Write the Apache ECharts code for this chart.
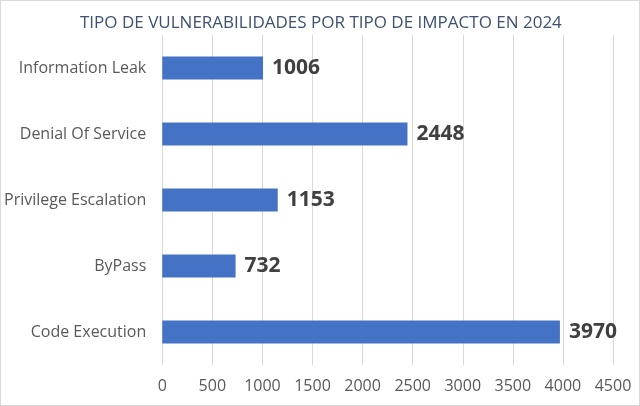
<!DOCTYPE html>
<html><head><meta charset="utf-8">
<script src="https://cdn.jsdelivr.net/npm/echarts@6/dist/echarts.min.js"></script>
<style>html,body{margin:0;padding:0;background:#fff}#c{width:640px;height:406px;box-sizing:border-box;border:1px solid #d9d9d9}</style>
</head><body><div id="c"></div>
<script>
const titleText = 'TIPO DE VULNERABILIDADES POR TIPO DE IMPACTO EN 2024';
const categories = ['Code Execution', 'ByPass', 'Privilege Escalation', 'Denial Of Service', 'Information Leak'];
const values = [3970, 732, 1153, 2448, 1006];
const xTicks = {min: 0, max: 4500, interval: 500};

const chart = echarts.init(document.getElementById('c'), null, {renderer: 'canvas'});
const font = '"Open Sans", "Liberation Sans", sans-serif';
chart.setOption({
  animation: false,
  title: {text: titleText, left: 74, top: 9,
    textStyle: {fontFamily: font, fontSize: 17, fontWeight: 'normal', color: '#3E5170'}},
  grid: {left: 159, right: 26, top: 34, bottom: 40, containLabel: false},
  xAxis: {type: 'value', min: xTicks.min, max: xTicks.max, interval: xTicks.interval,
    axisLine: {show: false}, axisTick: {show: false},
    splitLine: {lineStyle: {color: '#d9d9d9', width: 1}},
    axisLabel: {margin: 13, color: '#595959', fontFamily: font, fontSize: 16,
      formatter: v => String(v)}},
  yAxis: {type: 'category', data: categories,
    axisLine: {show: false}, axisTick: {show: false},
    axisLabel: {margin: 16, color: '#595959', fontFamily: font, fontSize: 16}},
  series: [{type: 'bar', data: values, barWidth: '35%',
    itemStyle: {color: '#4472C4'},
    label: {show: true, position: 'right', distance: 9, color: '#404040',
      fontFamily: font, fontSize: 21, fontWeight: 'bold'}}]
});
</script></body></html>
